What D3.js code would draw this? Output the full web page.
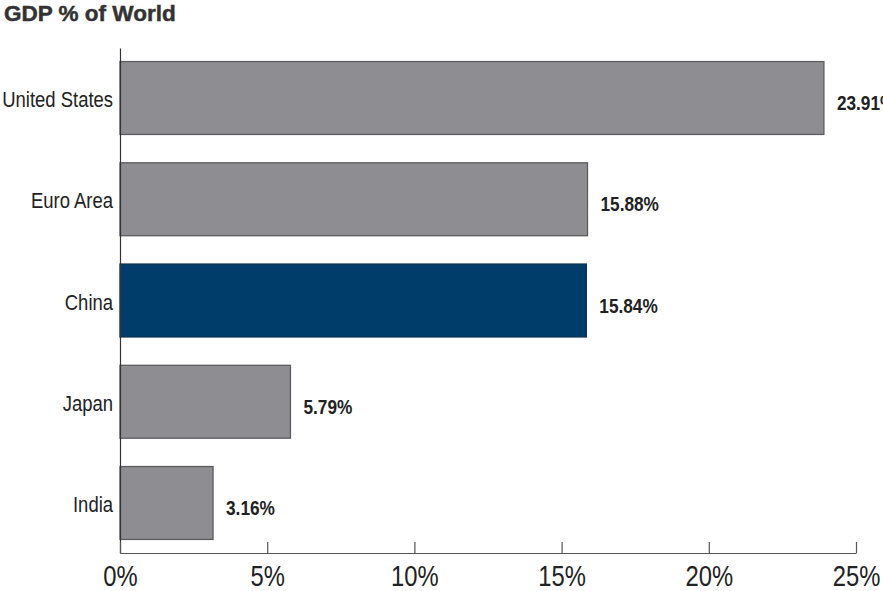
<!DOCTYPE html>
<html><head><meta charset="utf-8">
<script src="https://cdn.jsdelivr.net/npm/d3@7"></script>
<style>
body{margin:0;background:#fff;}
text{font-family:"Liberation Sans",Arial,sans-serif;}
</style></head>
<body><svg id="c" width="883" height="591"></svg>
<script>
const categories = ["United States","Euro Area","China","Japan","India"];
const values = [23.91, 15.88, 15.84, 5.79, 3.16];
const valueLabels = ["23.91%","15.88%","15.84%","5.79%","3.16%"];
const highlight = ["China"];
const tickValues = [0,5,10,15,20,25];
const title = "GDP % of World";

const svg = d3.select("#c");
const x = d3.scaleLinear().domain([0,25]).range([120,856]);
const y = d3.scaleBand().domain(categories).range([48,553]).paddingInner(0.28).paddingOuter(0.134);

function condense(sel, k){
  sel.each(function(){
    const len = this.getComputedTextLength();
    d3.select(this).attr("textLength", len*k).attr("lengthAdjust","spacingAndGlyphs");
  });
}

svg.append("text").attr("x",4).attr("y",21)
  .attr("font-weight","bold")
  .attr("font-size",22.5).attr("fill","#333").attr("stroke","#333").attr("stroke-width",0.5)
  .text(title);

// bars
svg.selectAll("rect.bar").data(categories).join("rect")
  .attr("x",x(0)).attr("y",d=>y(d))
  .attr("width",(d,i)=>x(values[i])-x(0)).attr("height",y.bandwidth())
  .attr("fill",d=>highlight.includes(d)?"#003d6b":"#8e8d92")
  .attr("stroke",d=>highlight.includes(d)?"#0a2e50":"#5c5c60").attr("stroke-width",1.3);

// value labels
svg.selectAll("text.val").data(categories).join("text")
  .attr("x",(d,i)=>x(values[i])+13).attr("y",d=>y(d)+y.bandwidth()/2+12)
  .attr("font-size",21).attr("font-weight","bold").attr("fill","#222")
  .text((d,i)=>valueLabels[i])
  .call(condense,0.82);

// y axis
const ya = svg.append("g").attr("transform",`translate(${x(0)},0)`)
  .call(d3.axisLeft(y).tickSize(0).tickPadding(7));
ya.select(".domain").attr("stroke","#333").attr("stroke-width",1.2);
ya.selectAll("text").attr("font-size",22.5).attr("fill","#222").attr("dy","0.4em")
  .call(condense,0.82);

// x axis
const xa = svg.append("g").attr("transform","translate(0,553)")
  .call(d3.axisBottom(x).tickValues(tickValues).tickFormat(d=>d+"%").tickSizeInner(-11).tickSizeOuter(0).tickPadding(24));
xa.select(".domain").attr("stroke","#555").attr("stroke-width",1.2);
xa.selectAll(".tick line").attr("stroke","#555").attr("stroke-width",1.2);
xa.selectAll("text").attr("font-size",29).attr("fill","#222").attr("dy","0.3em")
  .call(condense,0.82);
xa.attr("font-family",null); ya.attr("font-family",null);
</script></body></html>
